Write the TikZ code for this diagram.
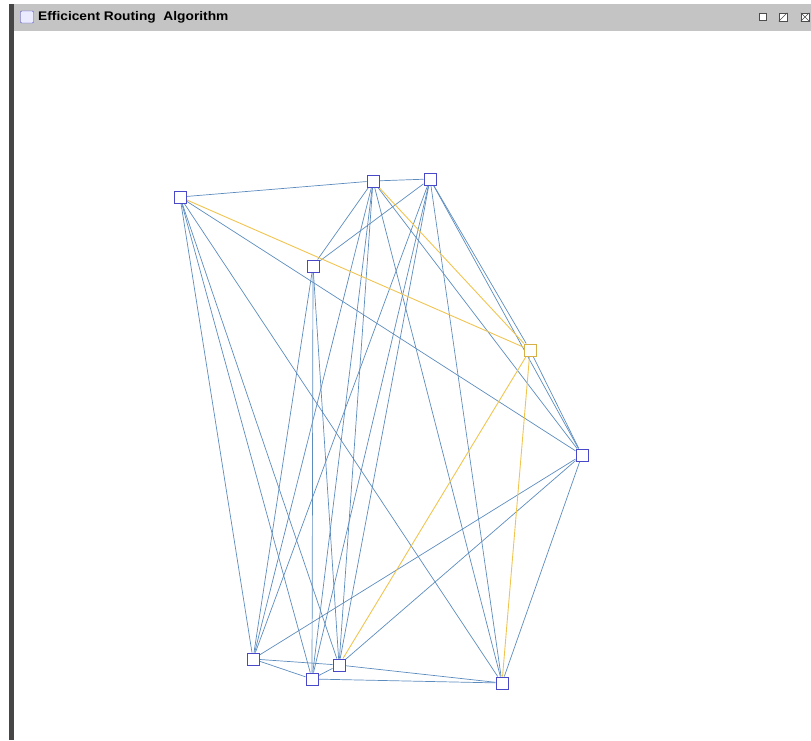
\documentclass[tikz,border=0pt]{standalone}
\usepackage{fontspec}
\setmainfont{Liberation Sans}
\usepackage{xcolor}
\usetikzlibrary{backgrounds}
\definecolor{rtnode}{RGB}{72,72,200}
\definecolor{rtlink}{RGB}{92,140,190}
\definecolor{rtpath}{RGB}{240,196,80}
\definecolor{rtbar}{RGB}{196,196,196}
\definecolor{rtframe}{RGB}{70,70,70}
\begin{document}
\begin{tikzpicture}[x=1pt,y=-1pt,
  nd/.style={draw=rtnode,fill=white,line width=1pt,minimum size=12pt,inner sep=0pt},
  hot/.style={nd,draw=rtpath!90!black},
  lk/.style={draw=rtlink,line width=0.7pt},
  pth/.style={draw=rtpath,line width=0.9pt},
  btn/.style={draw=black!70,line width=0.6pt,fill=white,minimum size=8pt,inner sep=0pt}]
  \useasboundingbox (0,0) rectangle (811,740);
  % window frame
  \fill[rtbar] (9,4) rectangle (811,31);
  \fill[rtframe] (9,4) rectangle (14,740);
  \node[draw=rtnode,fill=blue!8,minimum width=13pt,minimum height=12pt,inner sep=0pt,rounded corners=1pt] (ico) at (27,17) {};
  \node[anchor=west,font=\bfseries\fontsize{12.5}{14}\selectfont,inner sep=0pt,xscale=1.1] (ttl) at (38,17) {Efficicent Routing\ \ Algorithm};
  \node[btn,minimum size=7pt] (bmin) at (763,17) {};
  \node[btn] (bmax) at (783,17) {};
  \node[btn] (bcls) at (805,17) {};
  \draw[black!70] (bmax.south west) -- (bmax.north east) (bcls.south west) -- (bcls.north east) (bcls.north west) -- (bcls.south east);
  % routers
  \node[nd] (a) at (180,197) {};
  \node[nd] (b) at (373,181) {};
  \node[nd] (c) at (430,179) {};
  \node[nd] (d) at (313,266) {};
  \node[hot] (e) at (530,350) {};
  \node[nd] (f) at (582,455) {};
  \node[nd] (g) at (253,659) {};
  \node[nd] (h) at (339,665) {};
  \node[nd] (i) at (312,679) {};
  \node[nd] (j) at (502,683) {};
  \begin{scope}[on background layer]
    \foreach \u/\v in {a/b,a/f,a/g,a/i,a/h,a/j,b/c,b/d,b/g,b/i,b/h,b/j,b/f,
      c/d,c/g,c/i,c/h,c/j,c/f,c/e,d/i,d/h,d/g,e/f,f/g,f/h,f/j,
      g/h,g/i,h/i,h/j,i/j}
      {\draw[lk] (\u) -- (\v);}
    \foreach \u/\v in {a/e,b/e,e/h,e/j}
      {\draw[pth] (\u) -- (\v);}
  \end{scope}
\end{tikzpicture}
\end{document}
